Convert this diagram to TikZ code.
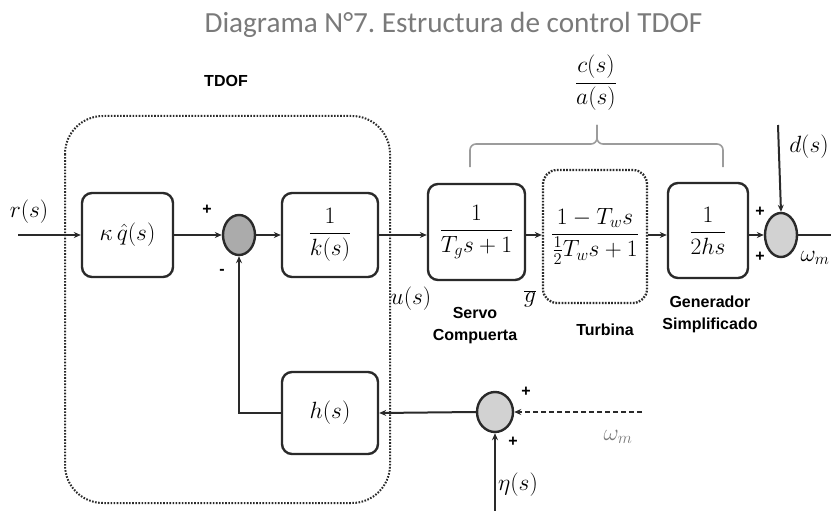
\IfFileExists{fix-cm.sty}{\RequirePackage{fix-cm}}{}
\documentclass[tikz,border=0pt]{standalone}
\usepackage{fontspec}
\newfontfamily\titlefont{Carlito}
\newfontfamily\labelfont{Liberation Sans}
\usetikzlibrary{arrows.meta,shapes.geometric}
\definecolor{edge}{HTML}{2A2A2A}
\definecolor{titlegray}{HTML}{7A7A7A}
\definecolor{bracegray}{HTML}{9C9C9C}
\definecolor{sumdark}{HTML}{ABABAB}
\definecolor{sumlight}{HTML}{D2D2D2}
\newcommand\mathsize{\fontsize{23.5}{27}\selectfont}
\newcommand\tagsize{\labelfont\bfseries\fontsize{16}{22}\selectfont}
\tikzset{
  blk/.style={draw=edge, line width=2.4pt, rounded corners=10pt, fill=white,
    inner sep=0pt, font=\mathsize},
  dotbox/.style={draw=edge, line width=2.3pt, dash pattern=on 1.7pt off 1.4pt,
    rounded corners=14pt, inner sep=0pt, font=\mathsize},
  sumj/.style={ellipse, draw=edge, line width=2.4pt, inner sep=0pt},
  conn/.style={draw=edge, line width=2pt, -{Stealth[length=7pt,width=6pt]}},
  wire/.style={draw=edge, line width=2pt},
  mlabel/.style={font=\mathsize, inner sep=0pt},
  sign/.style={font=\tagsize, inner sep=0pt},
  caption/.style={font=\tagsize, align=center, inner sep=0pt},
  bracepart/.style={draw=bracegray, line width=1.6pt, rounded corners=6pt},
  tdof/.style={draw=edge, line width=2pt, dash pattern=on 1.6pt off 1.5pt,
    rounded corners=38pt}
}
\begin{document}
\begin{tikzpicture}[x=1pt,y=-1pt]
\useasboundingbox (0,0) rectangle (831,511);

% heading
\node[font=\titlefont\fontsize{29.2}{31}\selectfont, text=titlegray, anchor=base, inner sep=0pt]
  (title) at (453.5,33) {Diagrama N°7.\ Estructura de control TDOF};

% two-degree-of-freedom controller frame
\draw[tdof] (65,116) rectangle (390,503);
\node[sign] (tdoflbl) at (226,81) {TDOF};

% blocks
\node[blk, minimum width=91pt, minimum height=84pt] (kq) at (127.5,235) {$\kappa\,\hat{q}(s)$};
\node[sumj, fill=sumdark, minimum width=32pt, minimum height=40pt] (s1) at (239,235) {};
\node[blk, minimum width=96pt, minimum height=84pt] (kinv) at (330,235) {$\displaystyle\frac{1}{k(s)}$};
\node[blk, minimum width=97pt, minimum height=96pt] (servo) at (476.5,232) {$\displaystyle\frac{1}{T_{g}s+1}$};
\node[dotbox, minimum width=104pt, minimum height=133pt] (turb) at (595,236.5) {$\displaystyle\frac{1-T_w s}{\frac{1}{2}T_w s+1}$};
\node[blk, minimum width=80pt, minimum height=95pt] (gen) at (708,230.5) {$\displaystyle\frac{1}{2hs}$};
\node[sumj, fill=sumlight, minimum width=32pt, minimum height=44pt] (s2) at (781,235) {};
\node[blk, minimum width=96pt, minimum height=82pt] (hb) at (330,413) {$h(s)$};
\node[sumj, fill=sumlight, minimum width=36pt, minimum height=40pt] (s3) at (495,412) {};

% free ends of the signals
\coordinate (rin) at (18,235);
\coordinate (yout) at (831,235);
\coordinate (dtop) at (778,125);
\coordinate (etabot) at (495,511);
\coordinate (wmeas) at (642,412);

% forward path
\draw[conn] (rin) -- (kq.west);
\draw[conn] (kq.east) -- (s1.west);
\draw[conn] (s1.east) -- (kinv.west);
\draw[conn] (kinv.east) -- (servo.west |- kinv.east);
\draw[conn] (servo.east |- kinv.east) -- (turb.west |- kinv.east);
\draw[conn] (turb.east |- kinv.east) -- (gen.west |- kinv.east);
\draw[conn] (gen.east |- s2.west) -- (s2.west);
\draw[wire] (s2.east) -- (yout);
\draw[conn] (dtop) -- (s2.north);

% feedback path
\draw[conn, dash pattern=on 5pt off 3pt] (wmeas) -- (s3.east);
\draw[conn] (etabot) -- (s3.south);
\draw[conn] (s3.west) -- (hb.east);
\draw[conn] (hb.west) -| (s1.south);

% brace over the plant
\draw[bracepart] (470,167) -- (470,144) -- (597,144) -- (597,125);
\draw[bracepart] (723,167) -- (723,144) -- (597,144) -- (597,125);
\node[mlabel] (plant) at (596,83) {$\displaystyle\frac{c(s)}{a(s)}$};

% signal labels
\node[mlabel] (rlbl) at (29,212) {$r(s)$};
\node[mlabel] (ulbl) at (411,299) {$u(s)$};
\node[mlabel] (glbl) at (530,299) {$\overline{g}$};
\node[mlabel] (dlbl) at (809,147) {$d(s)$};
\node[mlabel] (wlbl) at (815,258) {$\omega_m$};
\node[mlabel, text=titlegray] (wmlbl) at (618,437) {$\omega_m$};
\node[mlabel] (etalbl) at (518,485) {$\eta(s)$};

% junction signs
\node[sign] (p1) at (207,210) {+};
\node[sign] (m1) at (222,272) {-};
\node[sign] (p2) at (760,212) {+};
\node[sign] (p3) at (760,257) {+};
\node[sign] (p4) at (526,392) {+};
\node[sign] (p5) at (513,442) {+};

% block captions
\node[caption] (servocap) at (475,326) {Servo\\Compuerta};
\node[caption] (turbcap) at (605,330) {Turbina};
\node[caption] (gencap) at (710,314) {Generador\\Simplificado};
\end{tikzpicture}
\end{document}
